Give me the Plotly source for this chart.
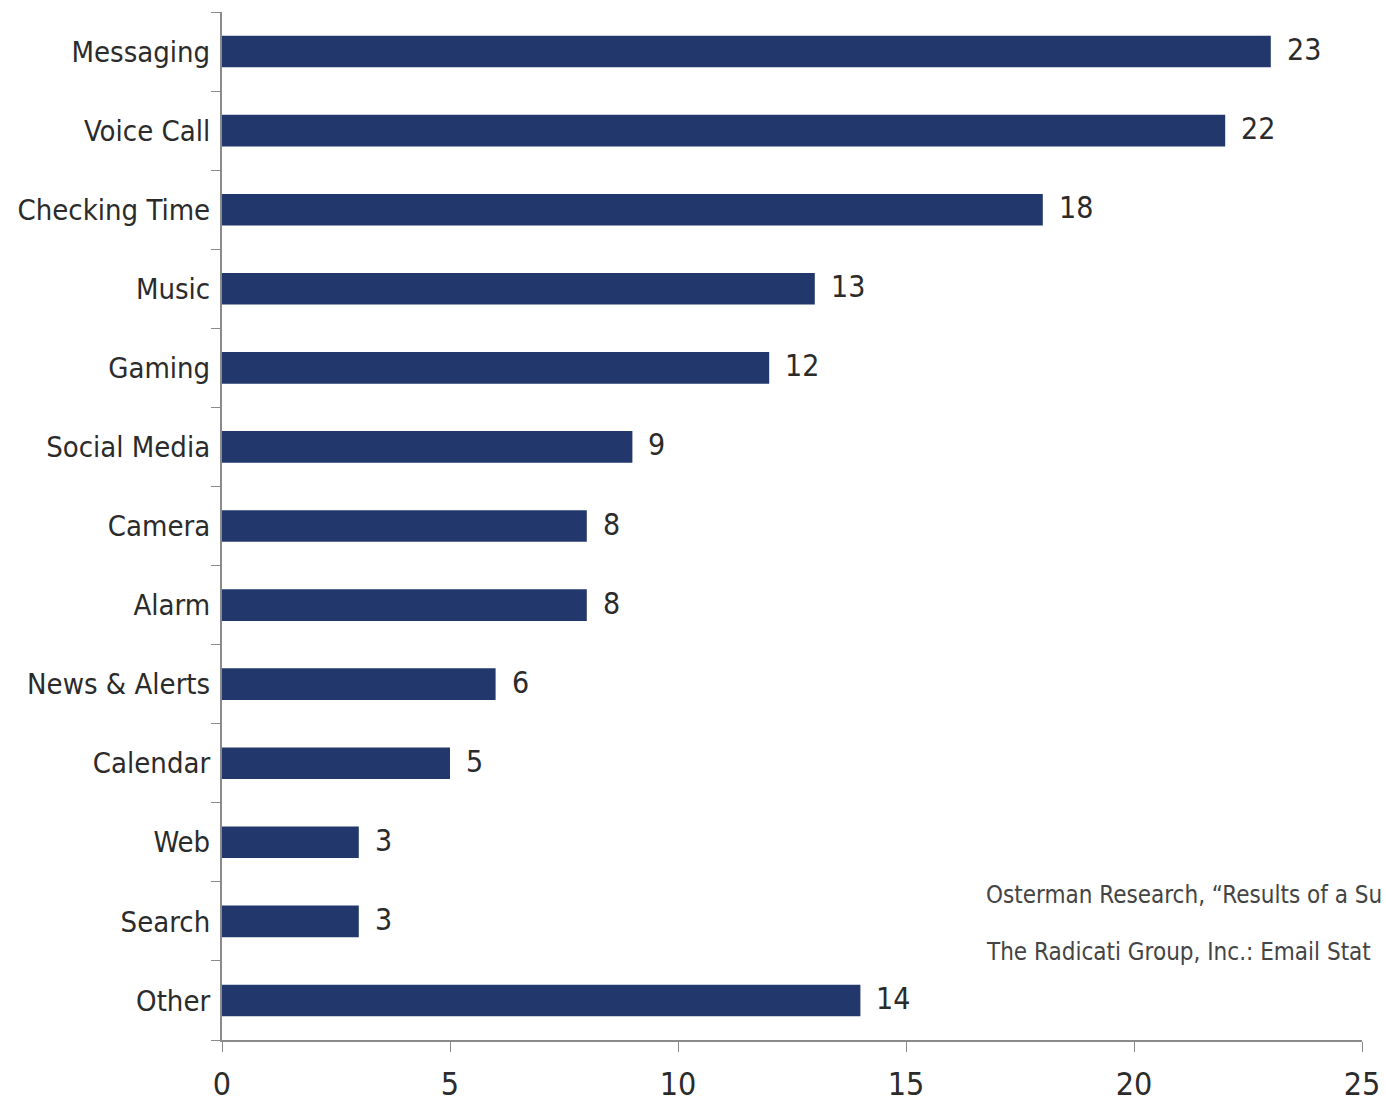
import plotly.graph_objects as go

categories = ["Messaging", "Voice Call", "Checking Time", "Music", "Gaming", "Social Media",
              "Camera", "Alarm", "News & Alerts", "Calendar", "Web", "Search", "Other"]
values = [23, 22, 18, 13, 12, 9, 8, 8, 6, 5, 3, 3, 14]
x_ticks = [0, 5, 10, 15, 20, 25]
source_lines = ["Osterman Research, \u201cResults of a Su",
                "The Radicati Group, Inc.: Email Stat"]

FONT = "DejaVu Sans Condensed, Liberation Sans Narrow, Roboto, sans-serif"
BAR = "#22386c"
TXT = "#2b2b2b"

W, H = 1386, 1104
L, R, T, B = 222, 24, 12, 64
PW = W - L - R
PH = H - T - B

fig = go.Figure()
fig.add_trace(go.Bar(
    x=values, y=categories, orientation="h",
    marker=dict(color=BAR, line=dict(width=0)),
    width=0.4,
    hoverinfo="skip",
))

for v, c in zip(values, categories):
    fig.add_annotation(x=v, y=c, xref="x", yref="y", text=str(v), showarrow=False,
                       xanchor="left", xshift=14, yshift=2,
                       font=dict(family=FONT, size=30, color=TXT))

for line, ywin in zip(source_lines, [895, 952]):
    fig.add_annotation(xref="paper", yref="paper",
                       x=(984 - L) / PW, y=(H - B - ywin) / PH,
                       text=line, showarrow=False, xanchor="left", yanchor="middle",
                       font=dict(family=FONT, size=24, color="#444444"))

fig.update_layout(
    width=W, height=H,
    margin=dict(l=L, r=R, t=T, b=B, autoexpand=False),
    paper_bgcolor="white", plot_bgcolor="white",
    showlegend=False,
    font=dict(family=FONT, color=TXT),
    xaxis=dict(range=[0, 25], tickvals=x_ticks, ticks="outside", ticklen=10,
               tickcolor="#8a8a8a", showline=True, linecolor="#8a8a8a", linewidth=2,
               showgrid=False, zeroline=False, ticklabeloverflow="allow",
               ticklabelstandoff=5, automargin=False,
               tickfont=dict(family=FONT, size=32, color=TXT)),
    yaxis=dict(categoryorder="array", categoryarray=categories[::-1],
               ticks="outside", ticklen=9, tickson="boundaries",
               tickcolor="#8a8a8a", showline=True, linecolor="#8a8a8a", linewidth=2,
               showgrid=False, ticklabelstandoff=4, automargin=False,
               tickfont=dict(family=FONT, size=29, color=TXT)),
)

fig.write_html("out.html", config={"displayModeBar": False},
               post_script="document.body.style.margin='0';document.body.style.overflow='hidden';")
